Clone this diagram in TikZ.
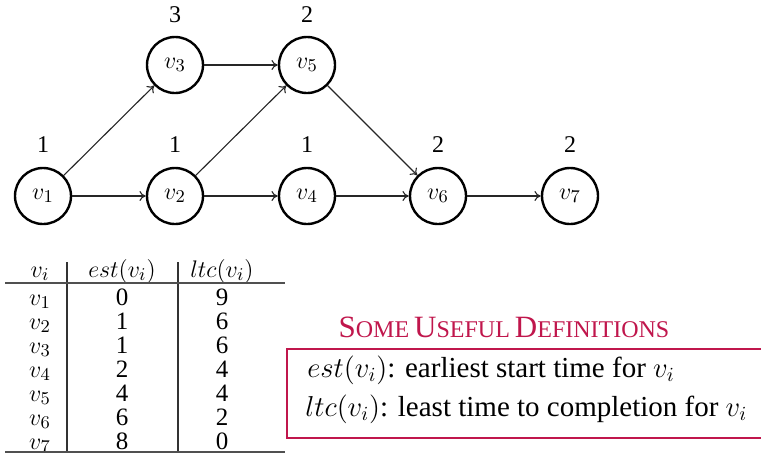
\documentclass[tikz,border=0pt]{standalone}
\usepackage{fontspec}
\setmainfont{Liberation Serif}
\usetikzlibrary{arrows.meta}
\definecolor{crim}{RGB}{192,22,76}
\definecolor{rulegray}{RGB}{80,80,80}
\tikzset{
  vert/.style={circle, draw=black, line width=1.2pt, minimum size=28pt, inner sep=0pt, font=\fontsize{13}{15}\selectfont},
  wt/.style={font=\fontsize{12}{14}\selectfont},
  edge/.style={draw=black!85, line width=0.55pt, -{To[length=3.2pt,width=5pt]}},
  cell/.style={anchor=base, inner sep=0pt, font=\fontsize{12.5}{14}\selectfont},
  hcell/.style={anchor=base, inner sep=0pt, font=\fontsize{13}{15}\selectfont},
  trule/.style={draw=rulegray, line width=1pt},
  vrule/.style={draw=black!80, line width=0.6pt},
  defs/.style={anchor=base west, inner sep=0pt, font=\fontsize{14.5}{17}\selectfont}
}
\newcommand{\sct}[1]{{\fontsize{15.5}{17}\selectfont #1}}
\newcommand{\scs}[1]{{\fontsize{12}{17}\selectfont #1}}
\begin{document}
\begin{tikzpicture}[x=0.5pt,y=-0.5pt]
\useasboundingbox (0,0) rectangle (761,462);
% graph
\node[vert] (v1) at (43,196) {$v_1$};
\node[vert] (v2) at (175,196) {$v_2$};
\node[vert] (v4) at (307,196) {$v_4$};
\node[vert] (v6) at (438,196) {$v_6$};
\node[vert] (v7) at (570,196) {$v_7$};
\node[vert] (v3) at (175,65) {$v_3$};
\node[vert] (v5) at (307,65) {$v_5$};
\node[wt] (w1) at (43,145) {1};
\node[wt] (w2) at (175,145) {1};
\node[wt] (w4) at (307,145) {1};
\node[wt] (w6) at (438,145) {2};
\node[wt] (w7) at (570,145) {2};
\node[wt] (w3) at (175,15) {3};
\node[wt] (w5) at (307,15) {2};
\draw[edge] (v1) -- (v2);
\draw[edge] (v1) -- (v3);
\draw[edge] (v2) -- (v4);
\draw[edge] (v2) -- (v5);
\draw[edge] (v3) -- (v5);
\draw[edge] (v4) -- (v6);
\draw[edge] (v5) -- (v6);
\draw[edge] (v6) -- (v7);
% table
\node[hcell] (h1) at (40,277) {$v_i$};
\node[hcell] (h2) at (122,277) {$est(v_i)$};
\node[hcell] (h3) at (222,277) {$ltc(v_i)$};
\foreach \i/\e/\l [count=\r from 0] in {1/0/9,2/1/6,3/1/6,4/2/4,5/4/4,6/6/2,7/8/0}{
  \node[hcell] (a\i) at (40,305+24*\r) {$v_{\i}$};
  \node[cell] (b\i) at (122,305+24*\r) {\e};
  \node[cell] (c\i) at (222,305+24*\r) {\l};
}
\coordinate (rl) at (5,283);
\coordinate (rr) at (285,283);
\coordinate (bl) at (5,452);
\coordinate (br) at (285,452);
\coordinate (va) at (67,262);
\coordinate (vab) at (67,452);
\coordinate (vb) at (178,262);
\coordinate (vbb) at (178,452);
\draw[vrule] (va) -- (vab);
\draw[vrule] (vb) -- (vbb);
\draw[trule] (rl) -- (rr);
\draw[trule] (bl) -- (br);
% definitions
\node[anchor=base, text=crim, inner sep=0pt] (title) at (504,337) {\sct{S}\scs{OME} \sct{U}\scs{SEFUL} \sct{D}\scs{EFINITIONS}};
\draw[draw=crim, line width=1pt] (770,349) -- (287,349) -- (287,438) -- (770,438);
\node[defs] (d1) at (307,377) {$est(v_i)$: earliest start time for $v_i$};
\node[defs] (d2) at (305,416) {$ltc(v_i)$: least time to completion for $v_i$};
\end{tikzpicture}
\end{document}
